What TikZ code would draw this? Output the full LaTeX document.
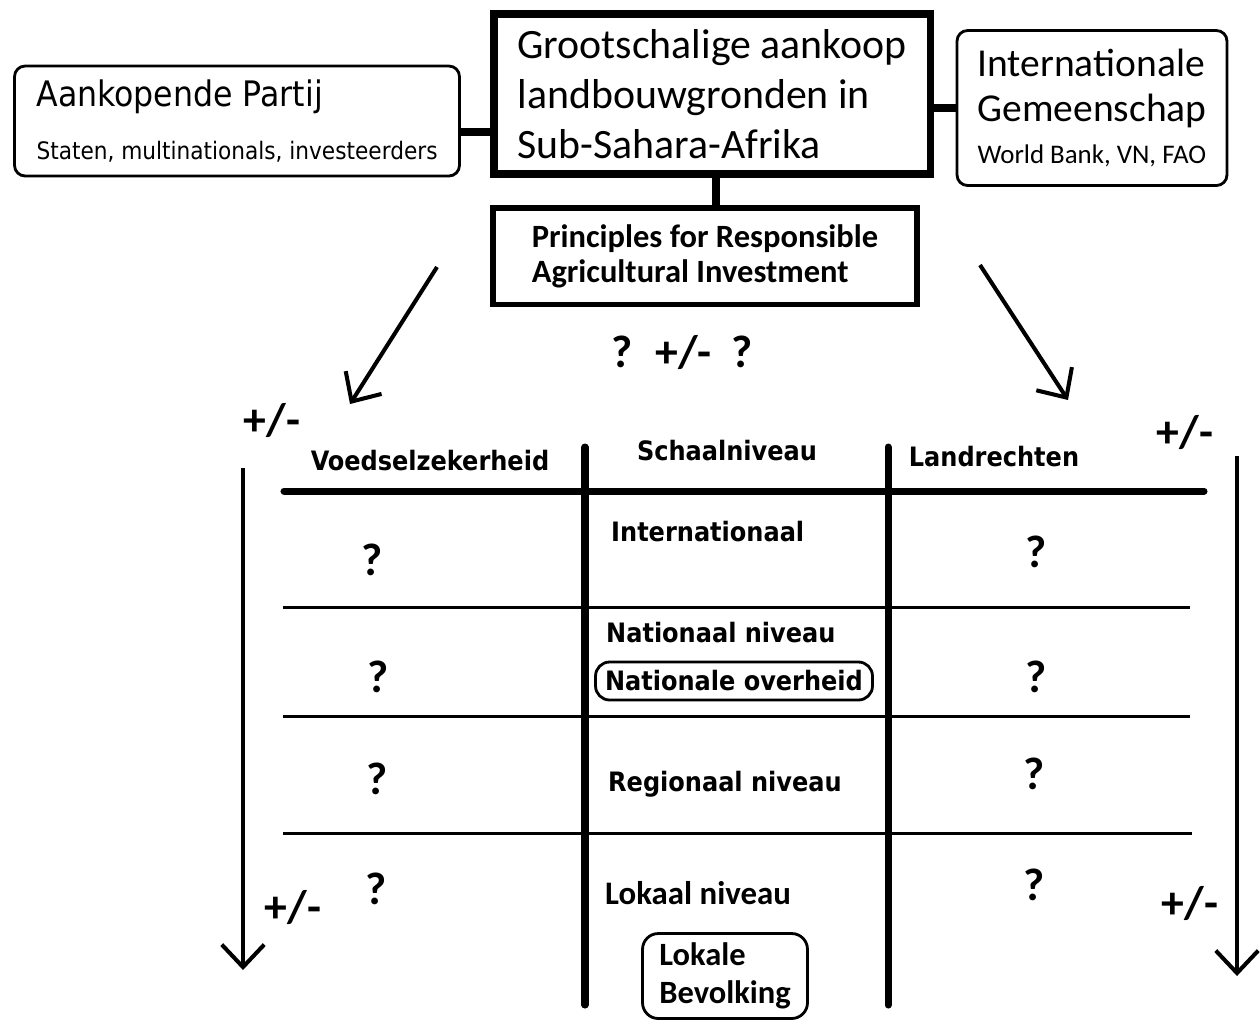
\documentclass[tikz,border=0pt]{standalone}
\usepackage{fontspec}
\setmainfont{Carlito}
\newfontfamily\tahoma{DejaVu Sans Condensed}
\usepackage{tikz}
\usetikzlibrary{arrows.meta, positioning, calc}

\begin{document}
\begin{tikzpicture}[x=0.02cm, y=-0.02cm,
    roundbox/.style={draw, line width=1.6pt, rounded corners=6pt, align=left, inner sep=0pt},
    link/.style={line width=4.5pt},
    pijl/.style={line width=2.3pt, -{Straight Barb[length=4.5mm, width=8.5mm, line width=2.3pt]}},
    tabel/.style={line width=4pt, line cap=round},
    rij/.style={line width=1.7pt},
    kop/.style={font=\tahoma\bfseries\fontsize{15.2}{18}\selectfont},
    vraag/.style={font=\bfseries\fontsize{26}{28}\selectfont},
    pm/.style={font=\bfseries\fontsize{26}{28}\selectfont}]
      \useasboundingbox (0,0) rectangle (1260,1019);

      % Hoofdthema
      \node[draw, line width=4.5pt, minimum width=8.74cm, minimum height=3.2cm, align=left, inner sep=0pt,
        font=\fontsize{23.8}{28.5}\selectfont] (main) at (712,94) {Grootschalige aankoop\\landbouwgronden in\\Sub-Sahara-Afrika};
      % Kopers
      \node[roundbox, minimum width=8.9cm, minimum height=2.2cm, font=\tahoma\fontsize{20}{30}\selectfont] (koper) at (237,121)
        {Aankopende Partij\\\tahoma\fontsize{13.7}{30}\selectfont Staten, multinationals, investeerders};
      % Internationale gemeenschap
      \node[roundbox, minimum width=5.4cm, minimum height=3.1cm, font=\fontsize{22.5}{25.5}\selectfont] (intgem) at (1092,108)
        {Internationale\\Gemeenschap\\[-2pt]\fontsize{15.3}{18}\selectfont World Bank, VN, FAO};
      % Principes
      \node[draw, line width=3.4pt, minimum width=8.48cm, minimum height=1.94cm, align=left, inner sep=0pt,
        font=\bfseries\fontsize{18.5}{20}\selectfont] (princ) at (705,256) {Principles for Responsible\\Agricultural Investment};

      \draw[link] ([yshift=-0.22cm]koper.east) -- ([yshift=-0.22cm]koper.east -| main.west);
      \draw[link] (intgem.west) -- (intgem.west -| main.east);
      \draw[link] ([xshift=0.08cm]main.south) -- ([xshift=0.08cm]main.south |- princ.north);

      \node[pm] (pmmid) at (682,352) {?\hspace{5pt} +/-\hspace{5pt} ?};

      % Pijlen
      \coordinate (lstart) at (437,267);
      \coordinate (leind) at (350,404);
      \coordinate (rstart) at (980,265);
      \coordinate (reind) at (1068,400);
      \draw[pijl] (lstart) -- (leind);
      \draw[pijl] (rstart) -- (reind);
      \coordinate (lbov) at (243,468);
      \coordinate (lond) at (243,970);
      \coordinate (rbov) at (1237,456);
      \coordinate (rond) at (1237,976);
      \draw[pijl] (lbov) -- (lond);
      \draw[pijl] (rbov) -- (rond);
      \node[pm] (pmlb) at (272,420) {+/-};
      \node[pm] (pmrb) at (1185,432) {+/-};
      \node[pm] (pmlo) at (293,907) {+/-};
      \node[pm] (pmro) at (1190,903) {+/-};

      % Tabel
      \draw[tabel] (284,491) -- (1204,491);
      \draw[tabel] (585,447) -- (585,1005);
      \draw[tabel] (888,447) -- (888,1005);
      \draw[rij] (283,607) -- (1190,607);
      \draw[rij] (283,716) -- (1190,716);
      \draw[rij] (283,833) -- (1192,833);

      \node[kop] (voedsel) at (430,461) {Voedselzekerheid};
      \node[kop] (schaal) at (727,451) {Schaalniveau};
      \node[kop] (land) at (994,457) {Landrechten};

      \node[kop, anchor=west] (inter) at (605,532) {Internationaal};
      \node[kop, anchor=west] (natniv) at (600,633) {Nationaal niveau};
      \node[kop, draw, line width=1.6pt, rounded corners=8pt, minimum width=5.54cm, minimum height=0.76cm, inner sep=0pt] (natov) at (734,681) {Nationale overheid};
      \node[kop, anchor=west] (regniv) at (602,784) {Regionaal niveau};
      \node[font=\bfseries\fontsize{18.7}{21}\selectfont, anchor=west] (lokniv) at (599,893) {Lokaal niveau};
      \node[roundbox, minimum width=3.3cm, minimum height=1.7cm, rounded corners=9pt, font=\bfseries\fontsize{18.5}{21.5}\selectfont] (lokbev) at (725,976) {Lokale\\Bevolking};

      \node[vraag] (v1l) at (372,560) {?};
      \node[vraag] (v2l) at (378,677) {?};
      \node[vraag] (v3l) at (377,779) {?};
      \node[vraag] (v4l) at (376,889) {?};
      \node[vraag] (v1r) at (1036,552) {?};
      \node[vraag] (v2r) at (1036,677) {?};
      \node[vraag] (v3r) at (1034,774) {?};
      \node[vraag] (v4r) at (1034,885) {?};
    \end{tikzpicture}
\end{document}
